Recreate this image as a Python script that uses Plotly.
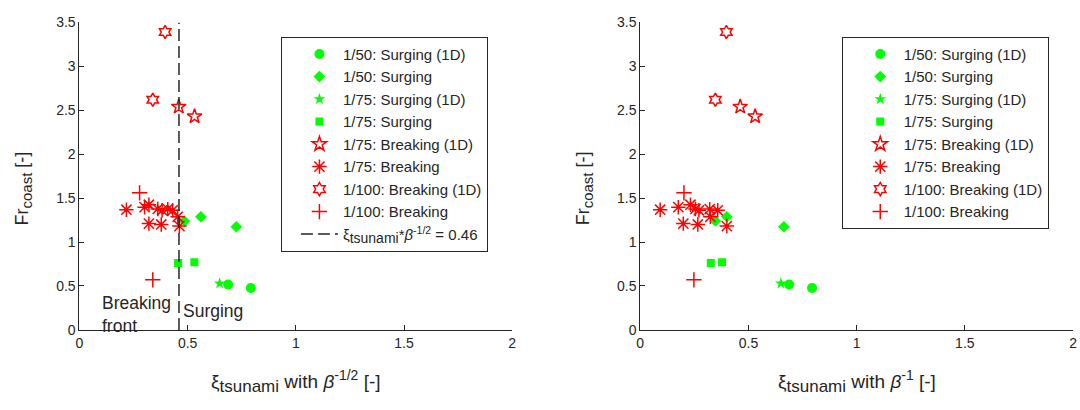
import plotly.graph_objects as go

# ---- data: Froude number at the coast vs. surf-similarity parameter ----
# x values: "half" uses beta^-1/2, "one" uses beta^-1
fr_50_surg_1d = [0.518, 0.478]
xi_half_50_surg_1d = [0.687, 0.792]
xi_one_50_surg_1d = [0.688, 0.794]

fr_50_surg = [1.24, 1.288, 1.174]
xi_half_50_surg = [0.485, 0.561, 0.725]
xi_one_50_surg = [0.347, 0.400, 0.664]

fr_75_surg_1d = [0.53]
xi_half_75_surg_1d = [0.648]
xi_one_75_surg_1d = [0.650]

fr_75_surg = [0.762, 0.770]
xi_half_75_surg = [0.456, 0.531]
xi_one_75_surg = [0.326, 0.378]

fr_75_brk_1d = [2.54, 2.43]
xi_half_75_brk_1d = [0.459, 0.532]
xi_one_75_brk_1d = [0.462, 0.531]

fr_75_brk = [1.368, 1.397, 1.425, 1.377, 1.362, 1.375, 1.362, 1.288, 1.21, 1.20, 1.182]
xi_half_75_brk = [0.217, 0.301, 0.321, 0.362, 0.382, 0.408, 0.431, 0.454, 0.321, 0.378, 0.462]
xi_one_75_brk = [0.092, 0.176, 0.232, 0.255, 0.271, 0.321, 0.358, 0.324, 0.199, 0.266, 0.400]

fr_100_brk_1d = [3.39, 2.62]
xi_half_100_brk_1d = [0.396, 0.339]
xi_one_100_brk_1d = [0.398, 0.347]

fr_100_brk = [1.56, 0.57]
xi_half_100_brk = [0.278, 0.339]
xi_one_100_brk = [0.202, 0.248]

xi_threshold = 0.46

x_ticks = [0, 0.5, 1, 1.5, 2]
x_tick_text = ["0", "0.5", "1", "1.5", "2"]
y_ticks = [0, 0.5, 1, 1.5, 2, 2.5, 3, 3.5]
y_tick_text = ["0", "0.5", "1", "1.5", "2", "2.5", "3", "3.5"]

GREEN = "#00ff00"
RED = "#ff0000"
INK = "#262626"
FONT = "Liberation Sans, Arial, Helvetica, sans-serif"

red_line = dict(color=RED, width=1.5)
series = [
    ("1/50: Surging (1D)", fr_50_surg_1d, xi_half_50_surg_1d, xi_one_50_surg_1d,
     dict(symbol="circle", size=10, color=GREEN)),
    ("1/50: Surging", fr_50_surg, xi_half_50_surg, xi_one_50_surg,
     dict(symbol="diamond", size=9, color=GREEN)),
    ("1/75: Surging (1D)", fr_75_surg_1d, xi_half_75_surg_1d, xi_one_75_surg_1d,
     dict(symbol="star", size=9, color=GREEN)),
    ("1/75: Surging", fr_75_surg, xi_half_75_surg, xi_one_75_surg,
     dict(symbol="square", size=8, color=GREEN)),
    ("1/75: Breaking (1D)", fr_75_brk_1d, xi_half_75_brk_1d, xi_one_75_brk_1d,
     dict(symbol="star-open", size=11, color=RED, line=red_line)),
    ("1/75: Breaking", fr_75_brk, xi_half_75_brk, xi_one_75_brk,
     dict(symbol="asterisk-open", size=12, color=RED, line=red_line)),
    ("1/100: Breaking (1D)", fr_100_brk_1d, xi_half_100_brk_1d, xi_one_100_brk_1d,
     dict(symbol="hexagram-open", size=10, color=RED, line=red_line)),
    ("1/100: Breaking", fr_100_brk, xi_half_100_brk, xi_one_100_brk,
     dict(symbol="cross-thin-open", size=11, color=RED, line=red_line)),
]

fig = go.Figure()

for name, fr, xh, x1, mk in series:
    fig.add_trace(go.Scatter(x=xh, y=fr, mode="markers", name=name, marker=mk,
                             xaxis="x", yaxis="y", legend="legend"))
for name, fr, xh, x1, mk in series:
    fig.add_trace(go.Scatter(x=x1, y=fr, mode="markers", name=name, marker=mk,
                             xaxis="x2", yaxis="y2", legend="legend2"))

# breaking / surging threshold
fig.add_trace(go.Scatter(
    x=[xi_threshold, xi_threshold], y=[0, 3.5], mode="lines",
    name="ξ<sub><span style='font-size:14px'>tsunami</span></sub>*<i>β</i><sup>-1/2</sup> = 0.46",
    line=dict(color=INK, width=1.5, dash="12px,5px"),
    xaxis="x", yaxis="y", legend="legend"))

axis_common = dict(
    showline=True, linecolor=INK, linewidth=1, mirror=False,
    ticks="inside", ticklen=5, tickcolor=INK, tickwidth=1,
    showgrid=False, zeroline=False,
    tickfont=dict(family=FONT, size=14, color=INK),
)

y_dom = [75 / 410, 395 / 410]

legend_common = dict(
    xanchor="left", yanchor="top", bgcolor="white",
    bordercolor=INK, borderwidth=1,
    font=dict(family=FONT, size=15, color=INK),
    tracegroupgap=0, indentation=14, itemwidth=37,
)

fig.update_layout(
    width=1080, height=410,
    margin=dict(l=0, r=0, t=0, b=0),
    paper_bgcolor="white", plot_bgcolor="white",
    font=dict(family=FONT, color=INK),
    xaxis=dict(domain=[76 / 1080, 512 / 1080], range=[0, 2], tickvals=x_ticks,
               ticktext=x_tick_text, anchor="y", **axis_common),
    yaxis=dict(domain=y_dom, range=[0, 3.5], tickvals=y_ticks,
               ticktext=y_tick_text, anchor="x", **axis_common),
    xaxis2=dict(domain=[641 / 1080, 1077 / 1080], range=[0, 2], tickvals=x_ticks,
                ticktext=x_tick_text, anchor="y2", **axis_common),
    yaxis2=dict(domain=y_dom, range=[0, 3.5], tickvals=y_ticks,
                ticktext=y_tick_text, anchor="x2", **axis_common),
    legend=dict(x=279 / 1080, y=380 / 410, **legend_common),
    legend2=dict(x=844 / 1080, y=380 / 410, **legend_common),
    showlegend=True,
)

y_title = "Fr<sub><span style='font-size:15px'>coast</span></sub> [-]"
x_title_half = ("ξ<sub><span style='font-size:17px'>tsunami</span></sub> with "
                "<i>β</i><sup><span style='font-size:14px'>-1/2</span></sup> [-]")
x_title_one = ("ξ<sub><span style='font-size:17px'>tsunami</span></sub> with "
               "<i>β</i><sup><span style='font-size:14px'>-1</span></sup> [-]")

title_font = dict(family=FONT, size=19, color=INK)
ytitle_font = dict(family=FONT, size=18, color=INK)
note_font = dict(family=FONT, size=17.5, color=INK)

annotations = [
    dict(text=y_title, x=20 / 1080, y=1 - 188 / 410, xref="paper", yref="paper",
         textangle=-90, showarrow=False, font=ytitle_font, xanchor="center", yanchor="middle"),
    dict(text=y_title, x=585 / 1080, y=1 - 188 / 410, xref="paper", yref="paper",
         textangle=-90, showarrow=False, font=ytitle_font, xanchor="center", yanchor="middle"),
    dict(text=x_title_half, x=294 / 1080, y=1 - 389 / 410,
         xref="paper", yref="paper", showarrow=False, font=title_font,
         xanchor="center", yanchor="middle"),
    dict(text=x_title_one, x=859 / 1080, y=1 - 389 / 410,
         xref="paper", yref="paper", showarrow=False, font=title_font,
         xanchor="center", yanchor="middle"),
    dict(text="Breaking<br>front", x=0.095, y=0.17, xref="x", yref="y", showarrow=False,
         align="left", xanchor="left", yanchor="middle", font=note_font),
    dict(text="Surging", x=0.47, y=0.215, xref="x", yref="y", showarrow=False,
         xanchor="left", yanchor="middle", font=note_font),
]
fig.update_layout(annotations=annotations)

fig.write_html("out.html")
